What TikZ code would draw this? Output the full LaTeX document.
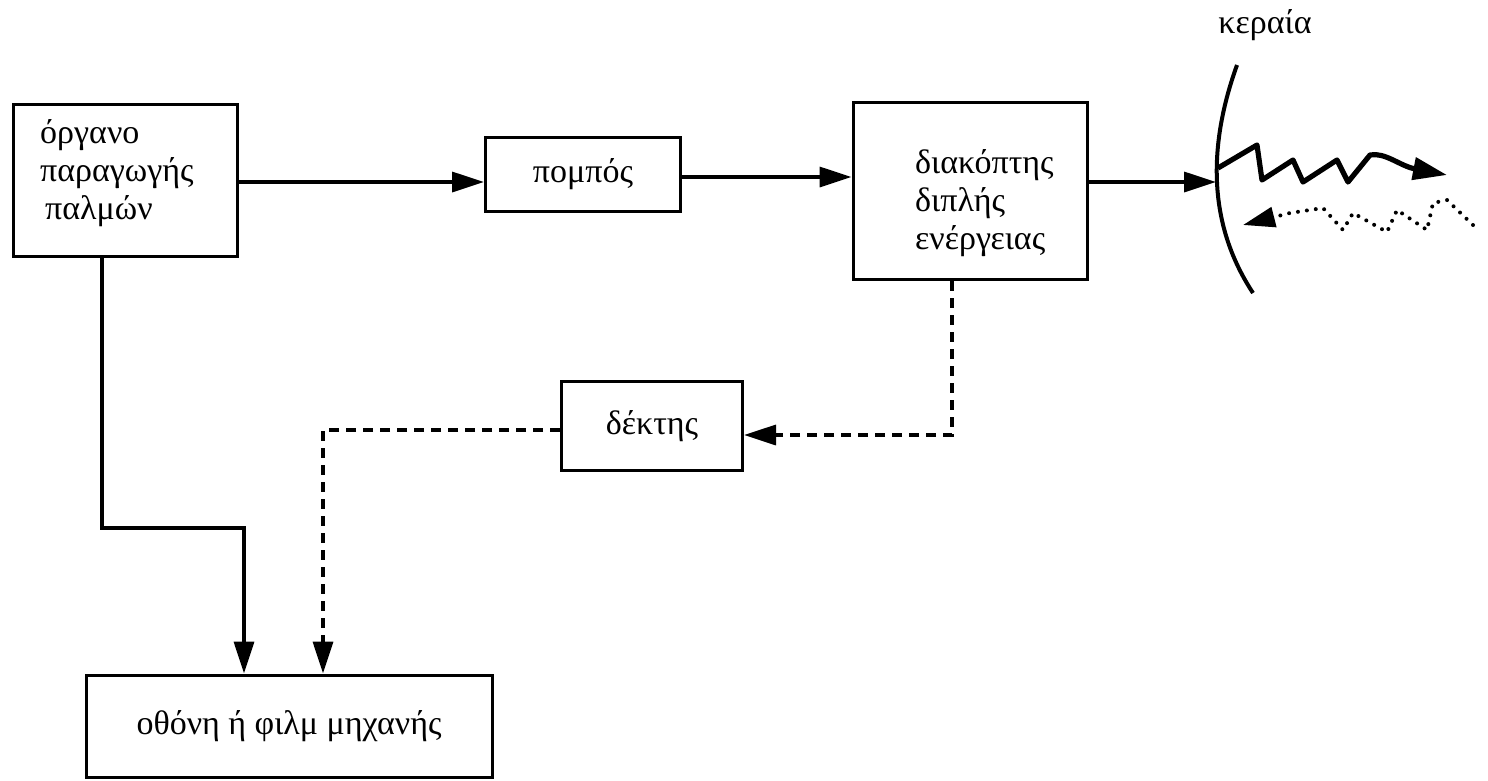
\documentclass[tikz,border=0pt]{standalone}
\usepackage{fontspec}
\setmainfont{Liberation Serif}
\usetikzlibrary{arrows.meta}
\begin{document}
\begin{tikzpicture}[x=1pt,y=-1pt,
  box/.style={draw,line width=3pt,rectangle,inner sep=0pt},
  txt/.style={font=\fontsize{34}{38}\selectfont,inner sep=0pt,align=left},
  conn/.style={line width=3.4pt,-{Triangle[length=32pt,width=20pt]}},
  dconn/.style={conn,dash pattern=on 10pt off 7pt},
]
\useasboundingbox (0,0) rectangle (1488,780);

\node[box,minimum width=224pt,minimum height=152pt] (b1) at (125,180) {};
\node[txt,anchor=north west] (t1) at (40,119) {όργανο\\παραγωγής\\\hspace{5pt}παλμών};

\node[box,minimum width=195pt,minimum height=74pt] (b2) at (583,174) {};
\node[txt] (t2) at (b2) {πομπός};

\node[box,minimum width=234pt,minimum height=177pt] (b3) at (970,191) {};
\node[txt,anchor=north west] (t3) at (915,149) {διακόπτης\\διπλής\\ενέργειας};

\node[box,minimum width=181pt,minimum height=89pt] (b4) at (652,426) {};
\node[txt] (t4) at (b4) {δέκτης};

\node[box,minimum width=406pt,minimum height=102pt] (b5) at (289,726) {};
\node[txt] (t5) at (b5) {οθόνη ή φιλμ μηχανής};

\node[txt] (lab) at (1265,25) {κεραία};

% antenna
\draw[line width=4pt] (1237,65) .. controls (1210,140) and (1205,220) .. (1253,293);
\coordinate (ant) at (1216,182);

% solid connectors
\draw[conn] (b1.east |- 0,182) -- (b2.west |- 0,182);
\draw[conn] (b2.east |- 0,177) -- (b3.west |- 0,177);
\draw[conn] (b3.east |- ant) -- (ant);

\coordinate (k1) at (102,528);
\coordinate (k2) at (244,528);
\draw[conn] (b1.south -| k1) -- (k1) -- (k2) -- (k2 |- b5.north);

% dashed connectors
\coordinate (k3) at (952,435);
\draw[dconn] (b3.south -| k3) -- (k3) -- (k3 -| b4.east);
\coordinate (k4) at (323,430);
\draw[dconn] (b4.west |- k4) -- (k4) -- (k4 |- b5.north);

% outgoing wave
\coordinate (w0) at (1218,168);
\draw[line width=5.2pt,line join=round,-{Triangle[length=34pt,width=22pt]}]
  (w0) -- (1257,145) -- (1262,180) -- (1293,160) -- (1303,182) -- (1337,160)
  -- (1348,182) -- (1370,155) .. controls (1385,152) and (1400,166) .. (1447,175);

% returning echo
\coordinate (e0) at (1473,225);
\draw[line width=4pt,line cap=round,dash pattern=on 0pt off 9pt,
  -{Triangle[length=32pt,width=20pt]}]
  (e0) -- (1447,200) -- (1433,203) -- (1427,230) -- (1397,210) -- (1387,232)
  -- (1353,213) -- (1343,230) -- (1323,208) -- (1290,213) -- (1243,225);
\end{tikzpicture}
\end{document}
